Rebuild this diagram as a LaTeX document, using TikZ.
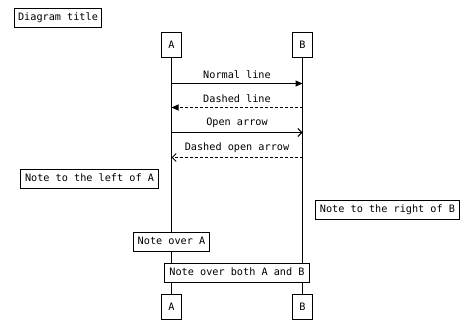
\documentclass[tikz,border=0pt]{standalone}
\usepackage{fontspec}
\setmonofont{DejaVu Sans Mono}
\usetikzlibrary{arrows.meta}
\begin{document}
\begin{tikzpicture}[x=1pt,y=-1pt,
  every node/.style={font=\ttfamily\fontsize{10.2}{12}\selectfont},
  box/.style={draw,line width=1pt,fill=white,inner sep=0pt,minimum height=19pt,text height=7.5pt,text depth=1.5pt},
  actor/.style={draw,line width=1pt,fill=white,minimum width=20pt,minimum height=25pt,inner sep=0pt,text height=7.5pt,text depth=0pt},
  msg/.style={line width=1pt},
  dsh/.style={msg,dash pattern=on 3pt off 2pt},
  solidtip/.style={-{Triangle[length=7pt,width=6pt]}},
  opentip/.style={-{Straight Barb[length=4pt,width=8pt,line width=1pt]}},
  lbl/.style={inner sep=0pt}]
\useasboundingbox (0,0) rectangle (474,331);
\node[box,minimum width=87pt] (title) at (58,18) {Diagram title};
\node[actor] (At) at (171.5,45) {A};
\node[actor] (Bt) at (302.5,45) {B};
\node[actor] (Ab) at (171.5,307) {A};
\node[actor] (Bb) at (302.5,307) {B};
\draw[line width=1pt] (At) -- (Ab);
\draw[line width=1pt] (Bt) -- (Bb);
\coordinate (a1) at (171.5,83.5); \coordinate (b1) at (302.5,83.5);
\coordinate (a2) at (171.5,107.5); \coordinate (b2) at (302.5,107.5);
\coordinate (a3) at (171.5,132.5); \coordinate (b3) at (302.5,132.5);
\coordinate (a4) at (171.5,157.5); \coordinate (b4) at (302.5,157.5);
\draw[msg,solidtip] (a1) -- (b1) node[lbl,midway,above=4pt] (l1) {Normal line};
\draw[dsh,solidtip] (b2) -- (a2) node[lbl,midway,above=4pt] (l2) {Dashed line};
\draw[msg,opentip] (a3) -- (b3) node[lbl,midway,above=4pt] (l3) {Open arrow};
\draw[dsh,opentip] (b4) -- (a4) node[lbl,midway,above=4pt] (l4) {Dashed open arrow};
\node[box,minimum width=138pt] (nl) at (89.5,179) {Note to the left of A};
\node[box,minimum width=144pt] (nr) at (387.5,210) {Note to the right of B};
\node[box,minimum width=76pt] (na) at (171.5,242) {Note over A};
\node[box,minimum width=145pt] (nab) at (237,273) {Note over both A and B};
\end{tikzpicture}
\end{document}
